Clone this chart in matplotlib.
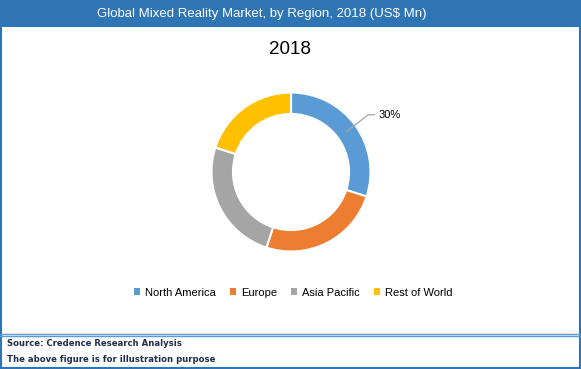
import matplotlib.pyplot as plt
import matplotlib.patches as patches
import numpy as np

# data
regions = ["North America", "Europe", "Asia Pacific", "Rest of World"]
shares = [30, 25, 25, 20]
colors = ["#5B9BD5", "#ED7D31", "#A5A5A5", "#FFC000"]
year_label = "2018"

W, H = 581, 369
fig = plt.figure(figsize=(W / 100, H / 100), dpi=100)
fig.patch.set_facecolor("white")

# background axes in pixel coordinates (y down)
bg = fig.add_axes([0, 0, 1, 1])
bg.set_xlim(0, W)
bg.set_ylim(H, 0)
bg.axis("off")

blue = "#2E75B6"
bg.add_patch(patches.Rectangle((0, 0), W, 26.5, facecolor=blue, edgecolor="none"))
bg.text(262, 13.5, "Global Mixed Reality Market, by Region, 2018 (US$ Mn)",
        ha="center", va="center", color="white", fontsize=9.5, family="Liberation Sans")
# outer frame
bg.plot([1, 1], [26, H - 1], color=blue, lw=1.5)
bg.plot([W - 1, W - 1], [26, H - 1], color=blue, lw=1.5)
bg.plot([0, W], [H - 1, H - 1], color=blue, lw=1.5)
# double separator above footer
bg.plot([0, W], [333.5, 333.5], color="#5B9BD5", lw=1)
bg.plot([0, W], [336, 336], color="#5B9BD5", lw=1)

bg.text(7, 343, "Source: Credence Research Analysis", ha="left", va="center",
        fontsize=6.1, fontweight="bold", color="#1F2D4A", family="DejaVu Sans")
bg.text(7, 359, "The above figure is for illustration purpose", ha="left", va="center",
        fontsize=6.1, fontweight="bold", color="#1F2D4A", family="DejaVu Sans")

bg.text(290, 50, year_label, ha="center", va="center", fontsize=13.5,
        color="black", family="Liberation Sans")

# donut
cx, cy, r = 291, 172, 79.5
ax = fig.add_axes([(cx - r) / W, (H - cy - r) / H, 2 * r / W, 2 * r / H])
ax.pie(shares, colors=colors, startangle=90, counterclock=False, radius=1,
       wedgeprops=dict(width=0.27, edgecolor="white", linewidth=1.5))
ax.set_xlim(-1, 1)
ax.set_ylim(-1, 1)
ax.set_aspect("equal")
ax.axis("off")

# leader label for first slice
theta = np.deg2rad(90 - 360 * shares[0] / sum(shares) / 2)
p0 = (0.865 * np.cos(theta), 0.865 * np.sin(theta))
ax.plot([p0[0], 0.97, 1.05], [p0[1], 0.72, 0.72], color="#A6A6A6", lw=0.9, clip_on=False)
ax.text(1.1, 0.72, f"{shares[0]}%", ha="left", va="center", fontsize=8,
        family="Liberation Sans", clip_on=False)

# legend
handles = [patches.Patch(facecolor=c, edgecolor="none") for c in colors]
fig.legend(handles, regions, loc="center", bbox_to_anchor=(293 / W, 1 - 292.5 / H),
           ncol=4, frameon=False, handlelength=0.6, handleheight=0.6,
           handletextpad=0.4, columnspacing=1.25, prop={"family": "Liberation Sans", "size": 8})

fig.savefig("out.png", dpi=100)
